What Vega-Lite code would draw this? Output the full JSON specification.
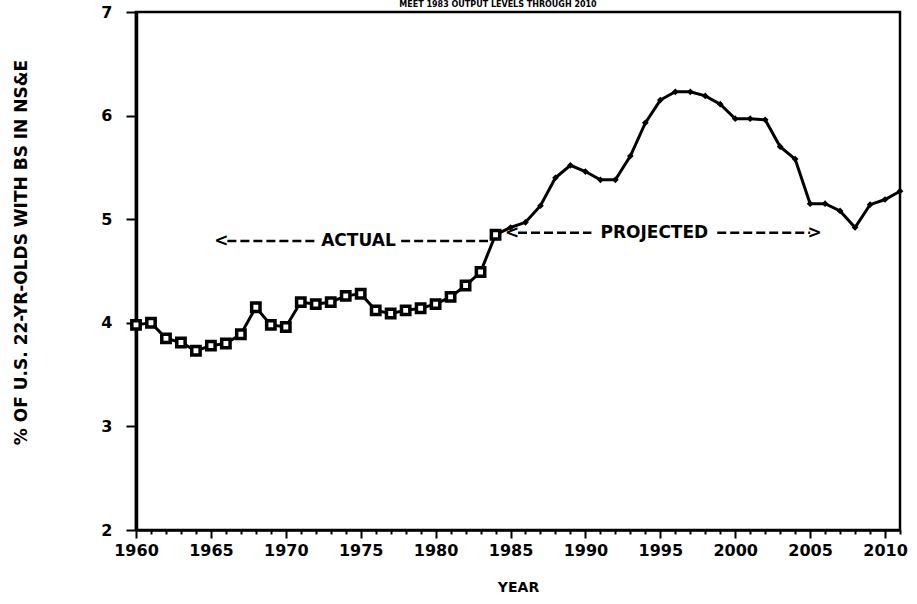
{
  "$schema": "https://vega.github.io/schema/vega-lite/v6.json",
  "width": 764,
  "height": 518,
  "autosize": {"type": "none"},
  "padding": {"left": 136, "top": 12, "right": 17, "bottom": 74},
  "background": "white",
  "title": {
    "text": "MEET 1983 OUTPUT LEVELS THROUGH 2010",
    "fontSize": 8,
    "font": "DejaVu Sans",
    "fontWeight": "bold",
    "offset": 0,
    "dy": 5,
    "color": "black",
    "dx": -20
  },
  "config": {
    "view": {"stroke": "black", "strokeWidth": 2.5},
    "axis": {
      "labelFont": "DejaVu Sans",
      "labelFontWeight": "bold",
      "labelFontSize": 16,
      "labelColor": "black",
      "titleFont": "DejaVu Sans",
      "titleFontWeight": "bold",
      "titleColor": "black",
      "domainColor": "black",
      "tickColor": "black",
      "grid": false
    }
  },
  "datasets": {
    "series": [
      {"year": 1960, "pct": 3.98, "period": "actual"},
      {"year": 1961, "pct": 4.0, "period": "actual"},
      {"year": 1962, "pct": 3.85, "period": "actual"},
      {"year": 1963, "pct": 3.81, "period": "actual"},
      {"year": 1964, "pct": 3.73, "period": "actual"},
      {"year": 1965, "pct": 3.78, "period": "actual"},
      {"year": 1966, "pct": 3.8, "period": "actual"},
      {"year": 1967, "pct": 3.89, "period": "actual"},
      {"year": 1968, "pct": 4.15, "period": "actual"},
      {"year": 1969, "pct": 3.98, "period": "actual"},
      {"year": 1970, "pct": 3.96, "period": "actual"},
      {"year": 1971, "pct": 4.2, "period": "actual"},
      {"year": 1972, "pct": 4.18, "period": "actual"},
      {"year": 1973, "pct": 4.2, "period": "actual"},
      {"year": 1974, "pct": 4.26, "period": "actual"},
      {"year": 1975, "pct": 4.28, "period": "actual"},
      {"year": 1976, "pct": 4.12, "period": "actual"},
      {"year": 1977, "pct": 4.09, "period": "actual"},
      {"year": 1978, "pct": 4.12, "period": "actual"},
      {"year": 1979, "pct": 4.14, "period": "actual"},
      {"year": 1980, "pct": 4.18, "period": "actual"},
      {"year": 1981, "pct": 4.25, "period": "actual"},
      {"year": 1982, "pct": 4.36, "period": "actual"},
      {"year": 1983, "pct": 4.49, "period": "actual"},
      {"year": 1984, "pct": 4.85, "period": "actual"},
      {"year": 1985, "pct": 4.92, "period": "projected"},
      {"year": 1986, "pct": 4.97, "period": "projected"},
      {"year": 1987, "pct": 5.13, "period": "projected"},
      {"year": 1988, "pct": 5.4, "period": "projected"},
      {"year": 1989, "pct": 5.52, "period": "projected"},
      {"year": 1990, "pct": 5.46, "period": "projected"},
      {"year": 1991, "pct": 5.38, "period": "projected"},
      {"year": 1992, "pct": 5.38, "period": "projected"},
      {"year": 1993, "pct": 5.61, "period": "projected"},
      {"year": 1994, "pct": 5.93, "period": "projected"},
      {"year": 1995, "pct": 6.15, "period": "projected"},
      {"year": 1996, "pct": 6.23, "period": "projected"},
      {"year": 1997, "pct": 6.23, "period": "projected"},
      {"year": 1998, "pct": 6.19, "period": "projected"},
      {"year": 1999, "pct": 6.11, "period": "projected"},
      {"year": 2000, "pct": 5.97, "period": "projected"},
      {"year": 2001, "pct": 5.97, "period": "projected"},
      {"year": 2002, "pct": 5.96, "period": "projected"},
      {"year": 2003, "pct": 5.7, "period": "projected"},
      {"year": 2004, "pct": 5.58, "period": "projected"},
      {"year": 2005, "pct": 5.15, "period": "projected"},
      {"year": 2006, "pct": 5.15, "period": "projected"},
      {"year": 2007, "pct": 5.08, "period": "projected"},
      {"year": 2008, "pct": 4.92, "period": "projected"},
      {"year": 2009, "pct": 5.14, "period": "projected"},
      {"year": 2010, "pct": 5.19, "period": "projected"},
      {"year": 2011, "pct": 5.27, "period": "projected"}
    ],
    "dashes": [
      {"year": 1966.1, "year2": 1972.1, "pct": 4.79},
      {"year": 1977.7, "year2": 1983.5, "pct": 4.79},
      {"year": 1985.5, "year2": 1990.4, "pct": 4.87},
      {"year": 1998.8, "year2": 2005.0, "pct": 4.87}
    ],
    "labels": [
      {"year": 1974.85, "pct": 4.79, "t": "ACTUAL"},
      {"year": 1994.6, "pct": 4.87, "t": "PROJECTED"},
      {"year": 1965.7, "pct": 4.79, "t": "<"},
      {"year": 1985.1, "pct": 4.87, "t": "<"},
      {"year": 2005.3, "pct": 4.87, "t": ">"}
    ]
  },
  "encoding": {
    "x": {
      "field": "year", "type": "quantitative",
      "scale": {"domain": [1960, 2011], "nice": false, "zero": false},
      "axis": {
        "orient": "bottom",
        "values": [1960,1961,1962,1963,1964,1965,1966,1967,1968,1969,1970,1971,1972,1973,1974,1975,1976,1977,1978,1979,1980,1981,1982,1983,1984,1985,1986,1987,1988,1989,1990,1991,1992,1993,1994,1995,1996,1997,1998,1999,2000,2001,2002,2003,2004,2005,2006,2007,2008,2009,2010,2011],
        "format": "d",
        "labelExpr": "datum.value % 5 === 0 ? datum.label : ''",
        "labelOverlap": false,
        "labelFlush": false,
        "title": "YEAR",
        "titleFontSize": 14,
        "titlePadding": 22,
        "tickSize": {"condition": {"test": "datum.value % 5 === 0", "value": 8}, "value": 4},
        "tickWidth": 2,
        "domainWidth": 2.5,
        "labelPadding": 4
      }
    },
    "y": {
      "field": "pct", "type": "quantitative",
      "scale": {"domain": [2, 7], "nice": false, "zero": false},
      "axis": {
        "values": [2, 3, 4, 5, 6, 7],
        "format": "d",
        "title": "% OF U.S. 22-YR-OLDS WITH BS IN NS&E",
        "titleFontSize": 17,
        "titleY": 240,
        "titlePadding": 70,
        "tickSize": 10,
        "tickWidth": 2,
        "domainWidth": 3.5,
        "labelPadding": 14
      }
    }
  },
  "layer": [
    {
      "data": {"name": "series"},
      "mark": {"type": "line", "color": "black", "strokeWidth": 3}
    },
    {
      "data": {"name": "series"},
      "transform": [{"filter": "datum.period === 'actual'"}],
      "mark": {"type": "point", "shape": "square", "filled": false, "fill": "white", "stroke": "black", "strokeWidth": 3.5, "size": 70, "opacity": 1}
    },
    {
      "data": {"name": "series"},
      "transform": [{"filter": "datum.period === 'projected'"}],
      "mark": {"type": "point", "shape": "diamond", "filled": true, "color": "black", "size": 45, "opacity": 1}
    },
    {
      "data": {"name": "dashes"},
      "mark": {"type": "rule", "color": "black", "strokeWidth": 2.5, "strokeDash": [9, 4]},
      "encoding": {
        "x2": {"field": "year2"}
      }
    },
    {
      "data": {"name": "labels"},
      "mark": {"type": "text", "font": "DejaVu Sans", "fontWeight": "bold", "fontSize": 17, "color": "black", "baseline": "middle", "align": "center"},
      "encoding": {
        "text": {"field": "t"}
      }
    }
  ]
}
